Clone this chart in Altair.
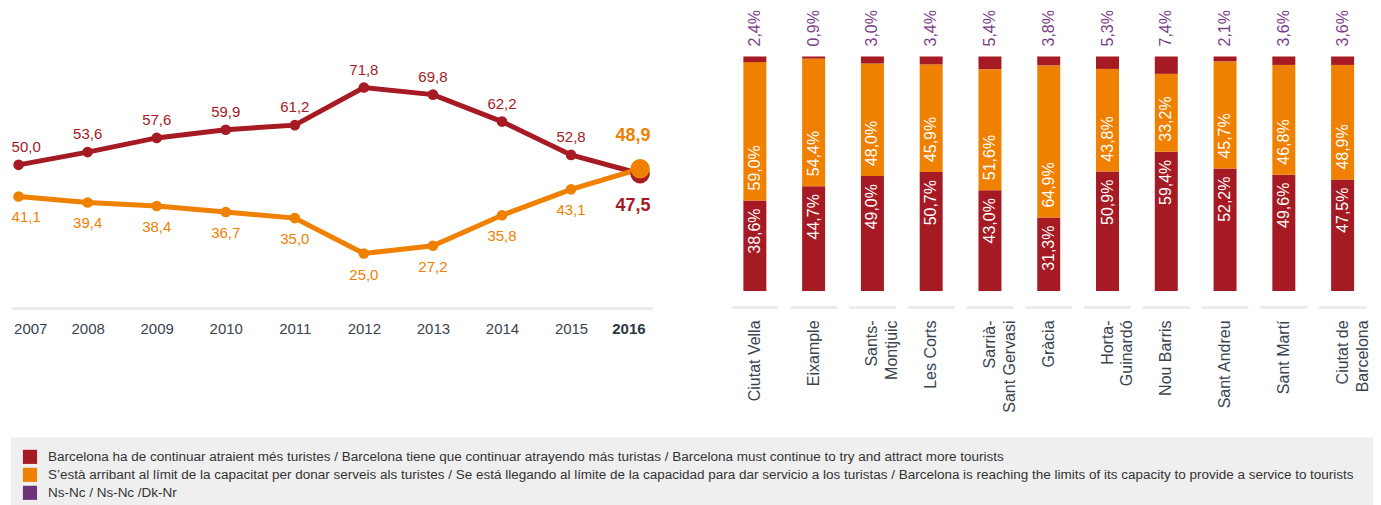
import altair as alt
import pandas as pd

RED = "#a51a23"
ORANGE = "#f08000"
PURPLE = "#6e3479"
PURPLE_TXT = "#7a3d87"
AXIS_TXT = "#3a4450"

# ---- line chart data ----
years = [2007, 2008, 2009, 2010, 2011, 2012, 2013, 2014, 2015, 2016]
attract = [50.0, 53.6, 57.6, 59.9, 61.2, 71.8, 69.8, 62.2, 52.8, 47.5]
limit = [41.1, 39.4, 38.4, 36.7, 35.0, 25.0, 27.2, 35.8, 43.1, 48.9]

# ---- bar chart data ----
districts = ["Ciutat Vella", "Eixample", "Sants-\nMontjuic", "Les Corts",
             "Sarrià-\nSant Gervasi", "Gràcia", "Horta-\nGuinardó", "Nou Barris",
             "Sant Andreu", "Sant Martí", "Ciutat de\nBarcelona"]
bar_attract = [38.6, 44.7, 49.0, 50.7, 43.0, 31.3, 50.9, 59.4, 52.2, 49.6, 47.5]
bar_limit = [59.0, 54.4, 48.0, 45.9, 51.6, 64.9, 43.8, 33.2, 45.7, 46.8, 48.9]
bar_nsnc = [2.4, 0.9, 3.0, 3.4, 5.4, 3.8, 5.3, 7.4, 2.1, 3.6, 3.6]

# ---- legend ----
legend_labels = [
    "Barcelona ha de continuar atraient més turistes / Barcelona tiene que continuar atrayendo más turistas / Barcelona must continue to try and attract more tourists",
    "S’està arribant al límit de la capacitat per donar serveis als turistes / Se está llegando al límite de la capacidad para dar servicio a los turistas / Barcelona is reaching the limits of its capacity to provide a service to tourists",
    "Ns-Nc / Ns-Nc /Dk-Nr",
]
legend_colors = [RED, ORANGE, PURPLE]


def fmt(v):
    return f"{v:.1f}".replace(".", ",")


line_df = pd.DataFrame({
    "year": years * 2,
    "value": attract + limit,
    "series": ["attract"] * len(years) + ["limit"] * len(years),
})
line_df["label"] = line_df["value"].map(fmt)

color_line = alt.Color("series:N", scale=alt.Scale(domain=["attract", "limit"], range=[RED, ORANGE]), legend=None)

X = alt.X("year:Q",
          scale=alt.Scale(domain=[2006.89, 2016.18], nice=False, zero=False),
          axis=alt.Axis(values=years, format="d", title=None, ticks=False, grid=False,
                        domainColor="#ececec", domainWidth=3, labelFontSize=15,
                        labelColor=alt.condition("datum.value == 2016", alt.value("#2e3640"), alt.value(AXIS_TXT)),
                        labelFontWeight=alt.condition("datum.value == 2016", alt.value("bold"), alt.value("normal")),
                        labelPadding=14, labelFlush=15, labelFlushOffset=5, labelOverlap=False))
Y = alt.Y("value:Q", scale=alt.Scale(domain=[9.66, 94.17], nice=False, zero=False), axis=None)

base = alt.Chart(line_df).encode(x=X, y=Y)

line_red = base.transform_filter("datum.series == 'attract'").mark_line(color=RED, strokeWidth=5)
line_or = base.transform_filter("datum.series == 'limit'").mark_line(color=ORANGE, strokeWidth=5)
pts = base.transform_filter("datum.year < 2016").mark_circle(size=113, opacity=1).encode(color=color_line)
big = base.transform_filter("datum.year == 2016").mark_circle(size=380, opacity=1).encode(color=color_line)

t_red = base.transform_filter("datum.series == 'attract' && datum.year > 2007 && datum.year < 2016") \
    .mark_text(dy=-18, fontSize=15, color=RED).encode(text="label:N")
t_red0 = base.transform_filter("datum.series == 'attract' && datum.year == 2007") \
    .mark_text(dy=-18, dx=-7, align="left", fontSize=15, color=RED).encode(text="label:N")
t_or = base.transform_filter("datum.series == 'limit' && datum.year > 2007 && datum.year < 2016") \
    .mark_text(dy=21, fontSize=15, color=ORANGE).encode(text="label:N")
t_or0 = base.transform_filter("datum.series == 'limit' && datum.year == 2007") \
    .mark_text(dy=21, dx=-7, align="left", fontSize=15, color=ORANGE).encode(text="label:N")
t_red_last = base.transform_filter("datum.series == 'attract' && datum.year == 2016") \
    .mark_text(dy=32, dx=-7, fontSize=18, fontWeight="bold", color=RED).encode(text="label:N")
t_or_last = base.transform_filter("datum.series == 'limit' && datum.year == 2016") \
    .mark_text(dy=-33, dx=-7, fontSize=18, fontWeight="bold", color=ORANGE).encode(text="label:N")

line_chart = alt.layer(line_red, line_or, pts, big, t_red, t_red0, t_or, t_or0, t_red_last, t_or_last) \
    .properties(width=642, height=300)

# ---- bar chart ----
n = len(districts)
bar_df = pd.DataFrame({
    "district": districts * 3,
    "series": ["attract"] * n + ["limit"] * n + ["nsnc"] * n,
    "ord": [0] * n + [1] * n + [2] * n,
    "value": bar_attract + bar_limit + bar_nsnc,
})
bar_df["label"] = bar_df["value"].map(lambda v: fmt(v) + "%")

BX = alt.X("district:N", sort=districts,
           scale=alt.Scale(paddingInner=0, paddingOuter=0),
           axis=alt.Axis(title=None, labelAngle=270, labelAlign="right", labelBaseline="middle",
                         labelExpr="split(datum.label, '\\n')", labelLineHeight=20,
                         labelFontSize=16, labelColor=AXIS_TXT, labelPadding=29,
                         ticks=False, domain=False, grid=False))
bscale = alt.Scale(domain=[0, 120.6], nice=False, zero=True)
color_bar = alt.Color("series:N", scale=alt.Scale(domain=["attract", "limit", "nsnc"], range=[RED, ORANGE, PURPLE]), legend=None)

bbase = alt.Chart(bar_df).transform_stack(
    stack="value", groupby=["district"], as_=["y0", "y1"],
    sort=[alt.SortField("ord", order="ascending")])

bars = bbase.mark_bar(width=23).encode(
    x=BX, y=alt.Y("y0:Q", scale=bscale, axis=None), y2="y1:Q", color=color_bar)

lbl_red = bbase.transform_filter("datum.ord == 0").mark_text(
    angle=270, align="right", baseline="middle", dx=-8, fontSize=16, color="white").encode(
    x=BX, y=alt.Y("y1:Q", scale=bscale, axis=None), text="label:N")
lbl_or = bbase.transform_filter("datum.ord == 1").mark_text(
    angle=270, align="left", baseline="middle", dx=10, fontSize=16, color="white").encode(
    x=BX, y=alt.Y("y0:Q", scale=bscale, axis=None), text="label:N")
lbl_pu = bbase.transform_filter("datum.ord == 2").mark_text(
    angle=270, align="left", baseline="middle", dx=10, fontSize=16, color=PURPLE_TXT).encode(
    x=BX, y=alt.Y("y1:Q", scale=bscale, axis=None), text="label:N")

sep = alt.Chart(pd.DataFrame({"district": districts})).mark_bar(width=47, color="#ececec").encode(
    x=BX, y=alt.value(298), y2=alt.value(301))

bar_chart = alt.layer(sep, bars, lbl_red, lbl_or, lbl_pu).properties(width=647, height=283)

# ---- legend box ----
leg_df = pd.DataFrame({"idx": [0, 1, 2], "label": legend_labels, "color": legend_colors})
LY = alt.Y("idx:O", scale=alt.Scale(type="point", domain=[0, 1, 2], range=[19, 55], padding=0), axis=None)
leg_bg = alt.Chart(leg_df).mark_rect(color="#efefef").encode(
    x=alt.value(0), x2=alt.value(1363), y=alt.value(0), y2=alt.value(68))
leg_sq = alt.Chart(leg_df).mark_square(size=200, opacity=1).encode(
    x=alt.value(19), y=LY,
    color=alt.Color("color:N", scale=None, legend=None))
leg_tx = alt.Chart(leg_df).mark_text(align="left", baseline="middle", fontSize=13.5, color="#333333").encode(
    x=alt.value(37), y=LY, text="label:N")
legend = alt.layer(leg_bg, leg_sq, leg_tx).properties(width=1363, height=68)

chart = alt.vconcat(
    alt.hconcat(line_chart, bar_chart, spacing=73),
    legend, spacing=25, padding=0
).configure(font="Liberation Sans").configure_view(stroke=None)

chart.save("out.html", embed_options={"renderer": "svg", "actions": False})
